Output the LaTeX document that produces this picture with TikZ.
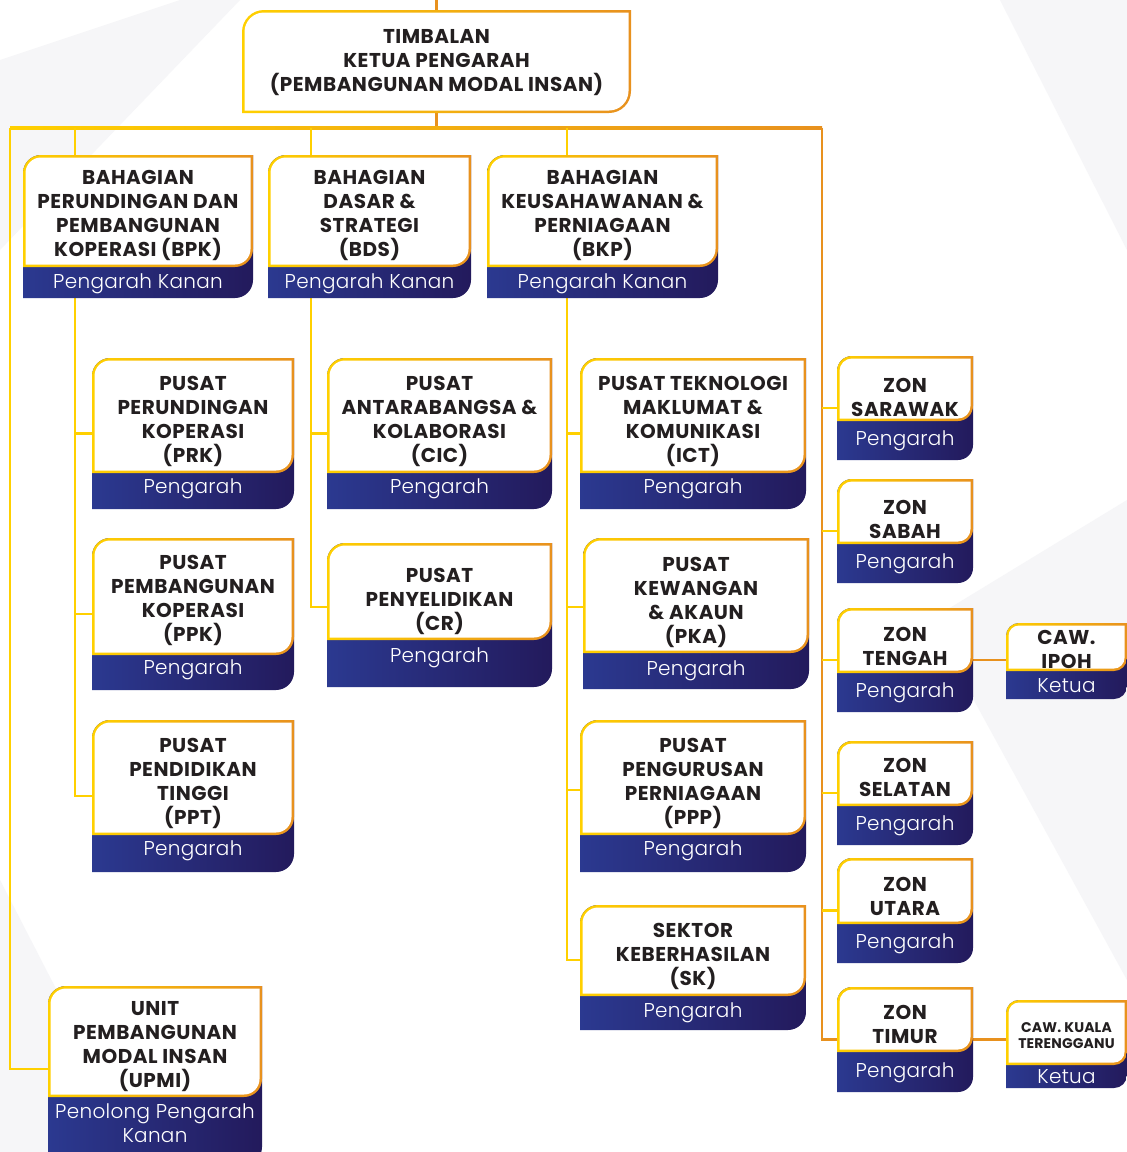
\documentclass[tikz,border=0pt]{standalone}
\usepackage{fontspec}
\setmainfont{Poppins}
\newfontfamily\lightf{Poppins Light}
\definecolor{ylw}{HTML}{FFD000}
\definecolor{org}{HTML}{E8911E}
\definecolor{bluL}{HTML}{2B3990}
\definecolor{bluR}{HTML}{231A5C}
\definecolor{txt}{HTML}{231F20}
\definecolor{bgs}{HTML}{F6F6F8}
\newcommand\boxR{18}
\newcommand\sdy{0}
\newcommand\unitbox[9]{%
  \pgfmathsetmacro\ux{(#2+#4)/2}%
  \pgfmathsetmacro\uw{#4-#2}%
  \pgfmathsetmacro\uh{#6-#3}%
  \pgfmathsetmacro\uc{(#3+#6)/2}%
  \pgfmathsetmacro\us{(#5+#6)/2+4+\sdy}%
  \pgfmathsetmacro\ub{\boxR-2.5}%
  \shade[left color=bluL,right color=bluR] (#2,-#6) -- (#2,-#3-\boxR) arc[start angle=180,end angle=90,radius=\boxR pt] -- (#4,-#3) -- (#4,-#6+\boxR) arc[start angle=0,end angle=-90,radius=\boxR pt] -- cycle;
  \shade[left color=ylw,right color=org] (#2,-#5) -- (#2,-#3-\boxR) arc[start angle=180,end angle=90,radius=\boxR pt] -- (#4,-#3) -- (#4,-#5+\boxR) arc[start angle=0,end angle=-90,radius=\boxR pt] -- cycle;
  \fill[white] (#2+2.5,-#5+2.5) -- (#2+2.5,-#3-\boxR) arc[start angle=180,end angle=90,radius=\ub pt] -- (#4-2.5,-#3-2.5) -- (#4-2.5,-#5+\boxR) arc[start angle=0,end angle=-90,radius=\ub pt] -- cycle;
  \node[hold, minimum width=\uw pt, minimum height=\uh pt] (#1) at (\ux,-\uc) {};
  \node[ttl] (#1-t) at (\ux,-#7-2.5) {#8};
  \node[sub, anchor=base] (#1-s) at (\ux,-\us) {#9};
}
\begin{document}
\begin{tikzpicture}[x=1pt,y=1pt,
  hold/.style={inner sep=0pt, outer sep=0pt, draw=none, rectangle},
  ttl/.style={inner sep=0pt, align=center, text=txt, font=\fontsize{20}{24}\selectfont\bfseries\addfontfeature{LetterSpace=2.5}},
  sub/.style={inner sep=0pt, align=center, text=white, font=\lightf\fontsize{20}{24}\selectfont\addfontfeature{LetterSpace=1.5}},
  yl/.style={draw=ylw, line width=2.2pt},
  ol/.style={draw=org, line width=2.2pt}]
\useasboundingbox (0,0) rectangle (1127,-1152);
\fill[white] (0,0) rectangle (1127,-1152);
\fill[bgs] (0,-60) -- (180,0) -- (240,0) -- (0,-250) -- cycle;
\fill[bgs] (1000,0) -- (1127,0) -- (1127,-250) -- cycle;
\fill[bgs] (0,-880) -- (0,-1152) -- (140,-1152) -- cycle;
\fill[bgs] (930,-620) -- (1127,-500) -- (1127,-980) -- cycle;

% bus coordinates
\coordinate (top0) at (436.5,0);
\coordinate (busL) at (10,-128);
\coordinate (busR) at (822,-128);
\coordinate (b1) at (75,-128);
\coordinate (b2) at (311,-128);
\coordinate (b3) at (567,-128);

% top box
\node[hold, minimum width=389pt, minimum height=103pt] (tkp) at (436.5,-61.5) {};
\draw[ol] (top0) -- (tkp.north);
\draw[ol] (tkp.south) -- (tkp.south |- busR);
\shade[left color=ylw,right color=org] ([yshift=1.1pt]busL) rectangle ([yshift=-1.1pt]busR);
\shade[left color=ylw,right color=org] (242,-113) -- (242,-10-22) arc[start angle=180,end angle=90,radius=22pt] -- (631,-10) -- (631,-113+22) arc[start angle=0,end angle=-90,radius=22pt] -- cycle;
\fill[white] (244.5,-110.5) -- (244.5,-10-22) arc[start angle=180,end angle=90,radius=19.5pt] -- (628.5,-12.5) -- (628.5,-113+22) arc[start angle=0,end angle=-90,radius=19.5pt] -- cycle;
\node[ttl] (tkp-t) at (436.5,-62.5) {TIMBALAN\\KETUA PENGARAH\\(PEMBANGUNAN MODAL INSAN)};

% hidden anchors for boxes (placed first so connectors can use them)
\foreach \n/\xa/\ya/\xb/\yb in {bpk/23/155/253/298, bds/268/155/471/298, bkp/487/155/718/298,
  prk/92/358/294/509, ppk/92/538/294/690, ppt/92/720/294/872,
  cic/327/358/552/509, cr/327/543/552/687,
  ict/580/358/806/509, pka/583/538/809/689, ppp/580/720/806/872, sk/580/905/806/1030,
  upmi/48/986/262/1165,
  sarawak/837/356/973/460, sabah/837/479/973/583, tengah/837/608/973/712,
  selatan/837/741/973/845, utara/837/858/973/963, timur/837/987/973/1092,
  ipoh/1006/623/1127/699, kt/1006/1000/1127/1088}
  {\node[hold, minimum width={(\xb-\xa)*1pt}, minimum height={(\yb-\ya)*1pt}] (\n) at ({(\xa+\xb)/2},{-(\ya+\yb)/2}) {};}

% connectors
\draw[yl] (busL) |- ([yshift=6.5pt]upmi.west);
\draw[yl] (b1) -- (b1 |- bpk.north);
\draw[yl] (b2) -- (b2 |- bds.north);
\draw[yl] (b3) -- (b3 |- bkp.north);
\draw[ol] (busR) |- (timur.west);
\draw[yl] (b1 |- bpk.south) |- (ppt.west);
\draw[yl] (b1 |- prk.west) -- (prk.west);
\draw[yl] (b1 |- ppk.west) -- (ppk.west);
\draw[yl] (b2 |- bds.south) |- ([yshift=8pt]cr.west);
\draw[yl] (b2 |- cic.west) -- (cic.west);
\draw[yl] (b3 |- bkp.south) |- ([yshift=7.5pt]sk.west);
\draw[yl] (b3 |- ict.west) -- (ict.west);
\draw[yl] (b3 |- pka.west) ++(0,6.5) -- ([yshift=6.5pt]pka.west);
\draw[yl] (b3 |- ppp.west) ++(0,6) -- ([yshift=6pt]ppp.west);
\foreach \z in {sarawak,sabah,tengah,selatan,utara}
  {\draw[yl] (busR |- \z.west) -- (\z.west);}
\draw[ol] (tengah.east) -- (tengah.east -| ipoh.west);
\draw[ol] (timur.east) -- (timur.east -| kt.west);

% boxes
\renewcommand\sdy{2}
\unitbox{bpk}{23}{155}{253}{267}{298}{213}{BAHAGIAN\\PERUNDINGAN DAN\\PEMBANGUNAN\\KOPERASI (BPK)}{Pengarah Kanan}
\unitbox{bds}{268}{155}{471}{267}{298}{213}{BAHAGIAN\\DASAR \&\\STRATEGI\\(BDS)}{Pengarah Kanan}
\unitbox{bkp}{487}{155}{718}{267}{298}{213}{BAHAGIAN\\KEUSAHAWANAN \&\\PERNIAGAAN\\(BKP)}{Pengarah Kanan}
\renewcommand\sdy{-2}
\unitbox{prk}{92}{358}{294}{473}{509}{419}{PUSAT\\PERUNDINGAN\\KOPERASI\\(PRK)}{Pengarah}
\unitbox{ppk}{92}{538}{294}{655}{690}{598}{PUSAT\\PEMBANGUNAN\\KOPERASI\\(PPK)}{Pengarah}
\unitbox{ppt}{92}{720}{294}{835}{872}{781}{PUSAT\\PENDIDIKAN\\TINGGI\\(PPT)}{Pengarah}
\unitbox{cic}{327}{358}{552}{473}{509}{419}{PUSAT\\ANTARABANGSA \&\\KOLABORASI\\(CIC)}{Pengarah}
\renewcommand\sdy{-5}
\unitbox{cr}{327}{543}{552}{640}{687}{599}{PUSAT\\PENYELIDIKAN\\(CR)}{Pengarah}
\renewcommand\sdy{-2}
\unitbox{ict}{580}{358}{806}{473}{509}{419}{PUSAT TEKNOLOGI\\MAKLUMAT \&\\KOMUNIKASI\\(ICT)}{Pengarah}
\renewcommand\sdy{0}
\unitbox{pka}{583}{538}{809}{653}{689}{600}{PUSAT\\KEWANGAN\\\& AKAUN\\(PKA)}{Pengarah}
\renewcommand\sdy{-2}
\unitbox{ppp}{580}{720}{806}{835}{872}{781}{PUSAT\\PENGURUSAN\\PERNIAGAAN\\(PPP)}{Pengarah}
\renewcommand\sdy{0}
\unitbox{sk}{580}{905}{806}{996}{1030}{954}{SEKTOR\\KEBERHASILAN\\(SK)}{Pengarah}
\unitbox{upmi}{48}{986}{262}{1097}{1165}{1044}{UNIT\\PEMBANGUNAN\\MODAL INSAN\\(UPMI)}{}
\node[sub] (upmi-s2) at (155,-1123) {Penolong Pengarah\\Kanan};
\renewcommand\boxR{15}
\renewcommand\sdy{1}
\unitbox{sarawak}{837}{356}{973}{421}{460}{395}{ZON\\SARAWAK}{Pengarah}
\unitbox{sabah}{837}{479}{973}{544}{583}{517}{ZON\\SABAH}{Pengarah}
\unitbox{tengah}{837}{608}{973}{673}{712}{644}{ZON\\TENGAH}{Pengarah}
\unitbox{selatan}{837}{741}{973}{806}{845}{775}{ZON\\SELATAN}{Pengarah}
\unitbox{utara}{837}{858}{973}{924}{963}{894}{ZON\\UTARA}{Pengarah}
\unitbox{timur}{837}{987}{973}{1052}{1092}{1022}{ZON\\TIMUR}{Pengarah}
\renewcommand\boxR{13}
\renewcommand\sdy{3}
\unitbox{ipoh}{1006}{623}{1127}{671}{699}{647}{CAW.\\IPOH}{Ketua}
\unitbox{kt}{1006}{1000}{1127}{1065}{1088}{1035}{}{Ketua}
\node[ttl, font=\fontsize{14}{16}\selectfont\bfseries\addfontfeature{LetterSpace=1}] (kt-t2) at (1066.5,-1036) {CAW. KUALA\\TERENGGANU};
\end{tikzpicture}
\end{document}
